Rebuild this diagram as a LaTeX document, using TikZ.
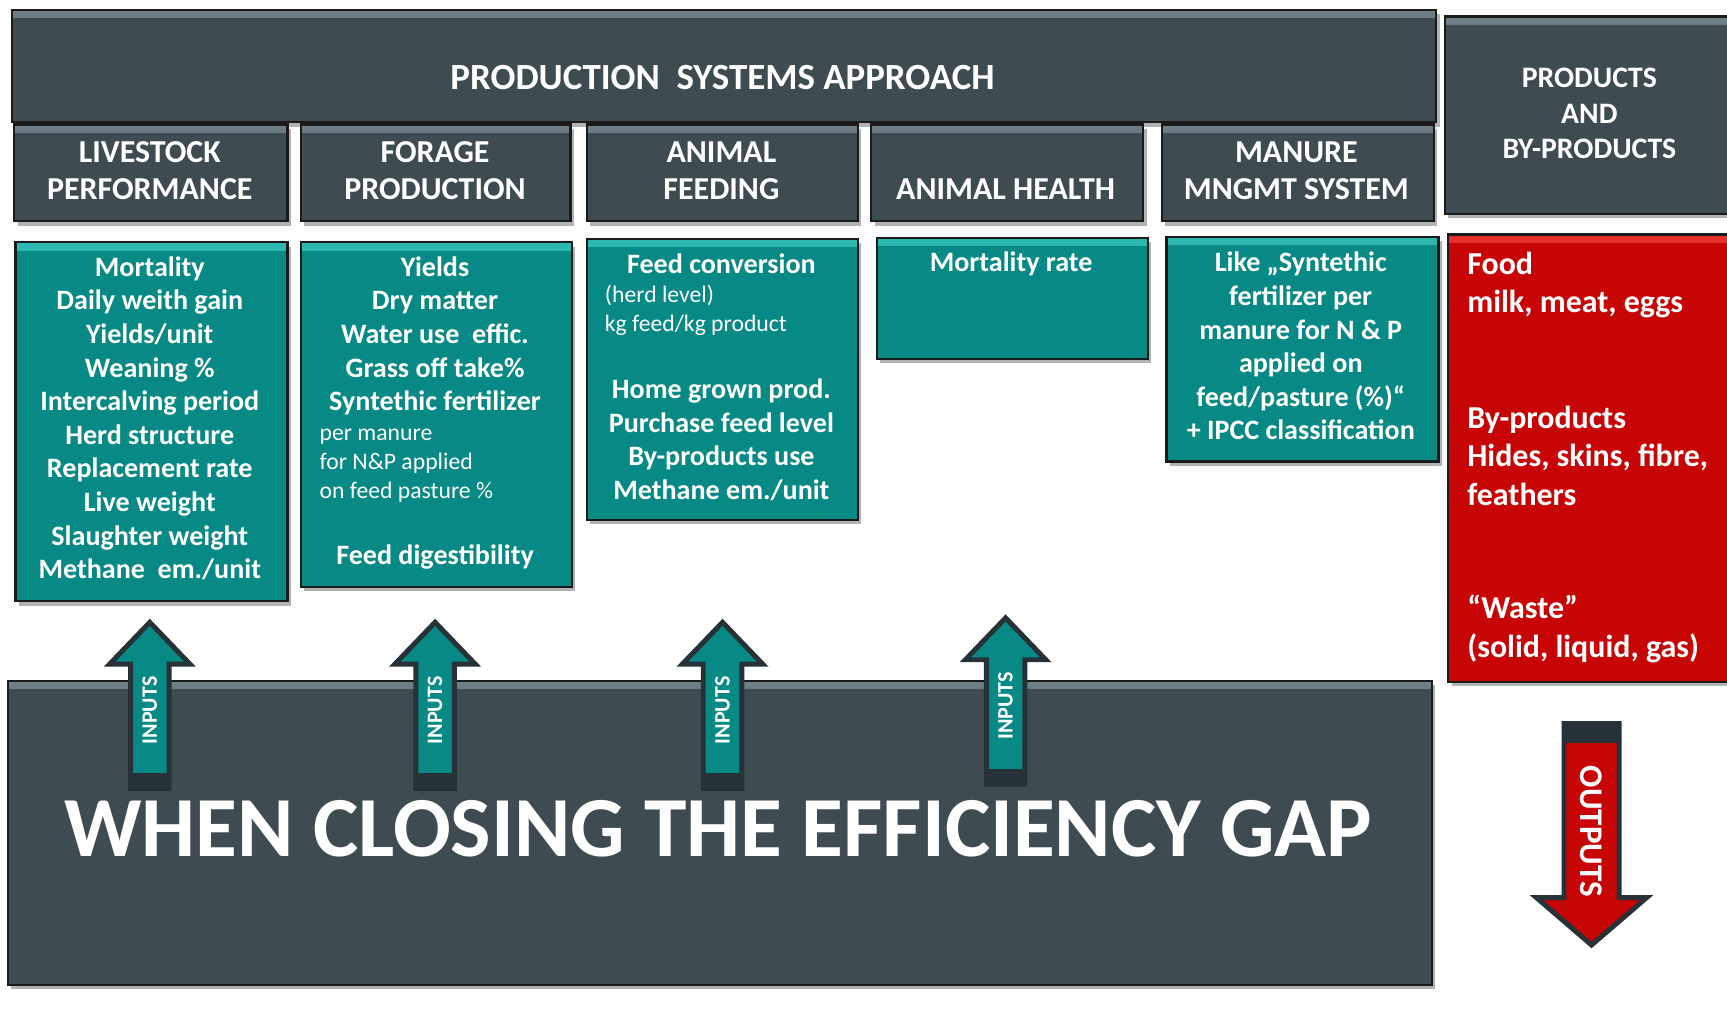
\documentclass[tikz,border=0pt]{standalone}
\usepackage{fontspec}
\setmainfont{Carlito}
\usetikzlibrary{shadows}
\definecolor{slate}{HTML}{3E4C52}
\definecolor{slatelt}{HTML}{6F7F87}
\definecolor{tealc}{HTML}{078985}
\definecolor{teallt}{HTML}{2DB8B2}
\definecolor{redc}{HTML}{C80505}
\definecolor{redlt}{HTML}{E83030}
\definecolor{arrdark}{HTML}{263238}
\definecolor{edgec}{HTML}{1A1A1A}
\newcommand\inarrow[3]{%
  \path[draw=arrdark, line width=4.5pt, fill=tealc, miter limit=10]
    (#2,#3) -- ++(36.5,38) -- ++(-19,0) -- ++(0,113) -- ++(-35,0) -- ++(0,-113) -- ++(-19,0) -- cycle;
  \fill[arrdark] (#2-17.5,#3+137) rectangle (#2+17.5,#3+151);
  \node[tw, rotate=90, font=\fontsize{20}{24}\selectfont\bfseries] (#1) at (#2,#3+80) {INPUTS};
}
\begin{document}
\begin{tikzpicture}[x=1pt, y=-1pt,
  basebox/.style 2 args={draw=edgec, line width=2pt, fill=#2, anchor=north west, inner sep=0pt,
    drop shadow={shadow xshift=3pt, shadow yshift=-4pt, opacity=0.3, fill=black},
    path picture={\shade[top color=#1, bottom color=#2]
      (path picture bounding box.north west) rectangle ([yshift=-7pt]path picture bounding box.north east);}},
  slatebox/.style={basebox={slatelt}{slate}},
  tealbox/.style={basebox={teallt}{tealc}},
  redbox/.style={basebox={redlt}{redc}},
  tw/.style={text=white, inner sep=0pt},
  hdr/.style={tw, align=center, font=\fontsize{29}{34}\selectfont\bfseries},
  bt/.style={tw, align=center, anchor=north, font=\fontsize{25.5}{30.5}\selectfont\bfseries},
  rt/.style={tw, align=left, anchor=north west, font=\fontsize{21.5}{26.5}\selectfont},
  redt/.style={tw, align=left, anchor=north west, font=\fontsize{29}{35}\selectfont\bfseries},
]
\useasboundingbox (0,0) rectangle (1568,917);
\fill[white] (0,0) rectangle (1568,917);

% top banner and headers
\node[slatebox, minimum width=1293pt, minimum height=102pt] (banner) at (10,8) {};
\node[hdr, font=\fontsize{33.5}{40}\selectfont\bfseries] (bannert) at (656,70) {PRODUCTION\ \ SYSTEMS APPROACH};
\node[slatebox, minimum width=270pt, minimum height=179pt] (prod) at (1311,14) {};
\node[hdr, font=\fontsize{27}{32.5}\selectfont\bfseries] (prodt) at (1443,103) {PRODUCTS\\AND\\BY-PRODUCTS};

\node[slatebox, minimum width=248pt, minimum height=88pt] (h1) at (12,112) {};
\node[slatebox, minimum width=245pt, minimum height=88pt] (h2) at (272,112) {};
\node[slatebox, minimum width=246pt, minimum height=88pt] (h3) at (532,112) {};
\node[slatebox, minimum width=247pt, minimum height=88pt] (h4) at (790,112) {};
\node[slatebox, minimum width=247pt, minimum height=88pt] (h5) at (1054,112) {};
\node[hdr] (h1t) at (136,155) {LIVESTOCK\\PERFORMANCE};
\node[hdr] (h2t) at (395,155) {FORAGE\\PRODUCTION};
\node[hdr] (h3t) at (655,155) {ANIMAL\\FEEDING};
\node[hdr] (h4t) at (913,172) {ANIMAL HEALTH};
\node[hdr] (h5t) at (1177,155) {MANURE\\MNGMT SYSTEM};

% teal boxes
\node[tealbox, minimum width=247pt, minimum height=326pt] (b1) at (13,219) {};
\node[tealbox, minimum width=246pt, minimum height=313pt] (b2) at (272,219) {};
\node[tealbox, minimum width=246pt, minimum height=255pt] (b3) at (532,216) {};
\node[tealbox, minimum width=246pt, minimum height=110pt] (b4) at (795,215) {};
\node[tealbox, minimum width=247pt, minimum height=204pt] (b5) at (1058,214) {};
\node[redbox, minimum width=270pt, minimum height=406pt] (b6) at (1314,212) {};

\node[bt] (b1t) at (136,229.3) {\strut Mortality\\Daily weith gain\\Yields/unit\\Weaning \%\\Intercalving period\\Herd structure\\Replacement rate\\Live weight\\Slaughter weight\\Methane\ \ em./unit};

\node[bt] (b2t) at (395,229.3) {\strut Yields\\Dry matter\\Water use\ \ effic.\\Grass off take\%\\Syntethic fertilizer};
\node[rt] (b2r) at (290,380.9) {\strut per manure\\for N\&P applied\\on feed pasture \%};
\node[bt, anchor=base] (b2b) at (395,512.6) {Feed digestibility};

\node[bt, anchor=base] (b3a) at (655,248.6) {Feed conversion};
\node[rt] (b3r) at (549,255.9) {\strut (herd level)\\kg feed/kg product};
\node[bt] (b3b) at (655,340.3) {\strut Home grown prod.\\Purchase feed level\\By-products use\\Methane em./unit};

\node[bt, anchor=base] (b4t) at (918,246.6) {Mortality rate};

\node[bt] (b5t) at (1181,225.3) {\strut Like „Syntethic\\fertilizer per\\manure for N \& P\\applied on\\feed/pasture (\%)“\\+ IPCC classification};

\node[redt] (r1) at (1332,224.2) {\strut Food\\milk, meat, eggs};
\node[redt] (r2) at (1332,364.2) {\strut By-products\\Hides, skins, fibre,\\feathers};
\node[redt] (r3) at (1332,537.2) {\strut “Waste”\\(solid, liquid, gas)};

% bottom box
\node[slatebox, minimum width=1293pt, minimum height=276pt] (gap) at (6,617) {};
\node[tw, font=\fontsize{77.7}{88}\selectfont\bfseries] (gapt) at (652,752) {WHEN CLOSING THE EFFICIENCY GAP};

% input arrows
\inarrow{in1}{136}{565}
\inarrow{in2}{395}{565}
\inarrow{in3}{656}{565}
\inarrow{in4}{913}{561}

% output arrow
\path[draw=arrdark, line width=4.5pt, fill=redc, miter limit=10]
  (1420,657) -- (1470,657) -- (1470,815) -- (1495,815) -- (1445,858) -- (1395,815) -- (1420,815) -- cycle;
\fill[arrdark] (1420,657) rectangle (1470,675);
\node[tw, rotate=-90, font=\fontsize{30}{34}\selectfont\bfseries] (outt) at (1445,755) {OUTPUTS};
\end{tikzpicture}
\end{document}
